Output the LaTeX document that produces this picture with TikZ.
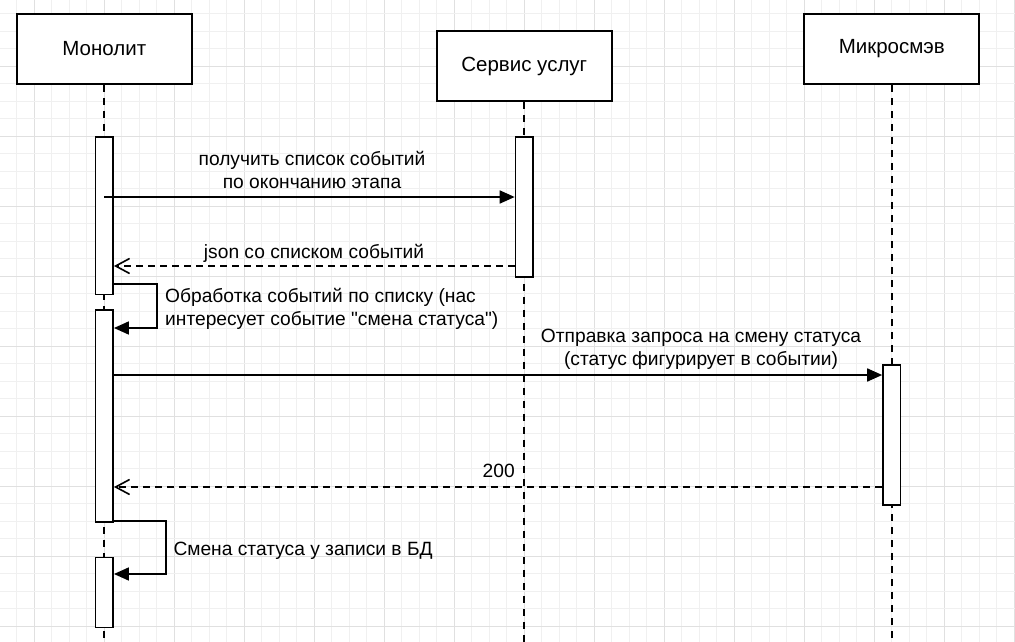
\documentclass[tikz,border=0pt]{standalone}
\usepackage{fontspec}
\setmainfont{Liberation Sans}[Ligatures=TeXOff]
\usetikzlibrary{arrows.meta}
\definecolor{gridminor}{HTML}{F0F0F0}
\definecolor{gridmajor}{HTML}{E0E0E0}
\begin{document}
\begin{tikzpicture}[x=1pt,y=-1pt,
  actor/.style={draw,line width=1.9pt,minimum width=175pt,minimum height=70pt,inner sep=0pt,fill=white,font=\fontsize{20.5}{24}\selectfont},
  actbox/.style={draw,line width=1.75pt,fill=white,minimum width=17.5pt,inner sep=0pt,anchor=north},
  lifeline/.style={line width=1.75pt,dash pattern=on 7pt off 6pt},
  msg/.style={line width=1.75pt,-{Triangle[length=15pt,width=13pt]}},
  ret/.style={line width=1.6pt,dash pattern=on 7pt off 5pt,-{Straight Barb[length=14pt,width=15pt,line width=1.6pt]}},
  lbl/.style={inner sep=0pt,font=\fontsize{19.2}{22.5}\selectfont,align=center,anchor=base},
  lbll/.style={inner sep=0pt,font=\fontsize{19.2}{22.5}\selectfont,align=left,anchor=base west},
]
\useasboundingbox (0,0) rectangle (1015,642);
\fill[white] (0,0) rectangle (1015,642);
% grid
\foreach \i in {0,...,58}{
  \pgfmathsetmacro{\gx}{-0.7+17.5*\i}
  \pgfmathtruncatemacro{\gm}{mod(\i+2,4)}
  \ifnum\gm=0 \draw[gridmajor,line width=0.8pt] (\gx,0) -- (\gx,642);
  \else \draw[gridminor,line width=0.8pt] (\gx,0) -- (\gx,642); \fi
}
\foreach \j in {0,...,37}{
  \pgfmathsetmacro{\gy}{-4+17.5*\j}
  \pgfmathtruncatemacro{\gm}{mod(\j,4)}
  \ifnum\gm=0 \draw[gridmajor,line width=0.8pt] (0,\gy) -- (1015,\gy);
  \else \draw[gridminor,line width=0.8pt] (0,\gy) -- (1015,\gy); \fi
}
% actors
\node[actor] (mono) at (104.3,49) {Монолит};
\node[actor] (serv) at (524.3,66) {Сервис услуг};
\node[actor] (micro) at (891.8,49) {Микросмэв};
\coordinate (monoend) at (104.3,642);
\coordinate (servend) at (524.3,642);
\coordinate (microend) at (891.8,642);
\draw[lifeline] (mono.south) -- (monoend);
\draw[lifeline] (serv.south) -- (servend);
\draw[lifeline] (micro.south) -- (microend);
% activations
\node[actbox,minimum height=157.5pt] (a1) at (104.3,136) {};
\node[actbox,minimum height=140pt] (s1) at (524.3,136) {};
\node[actbox,minimum height=212pt] (a2) at (104.3,309) {};
\node[actbox,minimum height=140pt] (m1) at (891.8,364) {};
\node[actbox,minimum height=70pt] (a3) at (104.3,556.5) {};
% messages
\draw[msg] (a1.center |- 0,197) -- (s1.west |- 0,197);
\node[lbl] (l1) at (312,188) {получить список событий\\по окончанию этапа};
\draw[ret] (s1.west |- 0,266) -- (a1.east |- 0,266);
\node[lbl] (l2) at (314,258) {json со списком событий};
\draw[msg] (a1.east |- 0,284) -- (156.7,284) -- (156.7,328) -- (a2.east |- 0,328);
\node[lbll] (l3) at (165,325) {Обработка событий по списку (нас\\интересует событие "смена статуса")};
\draw[msg] (a2.east |- 0,375) -- (m1.west |- 0,375);
\node[lbl] (l4) at (701,365) {Отправка запроса на смену статуса\\(статус фигурирует в событии)};
\draw[ret] (m1.west |- 0,487) -- (a2.east |- 0,487);
\node[lbl] (l5) at (498.7,477.3) {200};
\draw[msg] (a2.east |- 0,521) -- (166,521) -- (166,574) -- (a3.east |- 0,574);
\node[lbll] (l6) at (173.3,555) {Смена статуса у записи в БД};
\end{tikzpicture}
\end{document}
